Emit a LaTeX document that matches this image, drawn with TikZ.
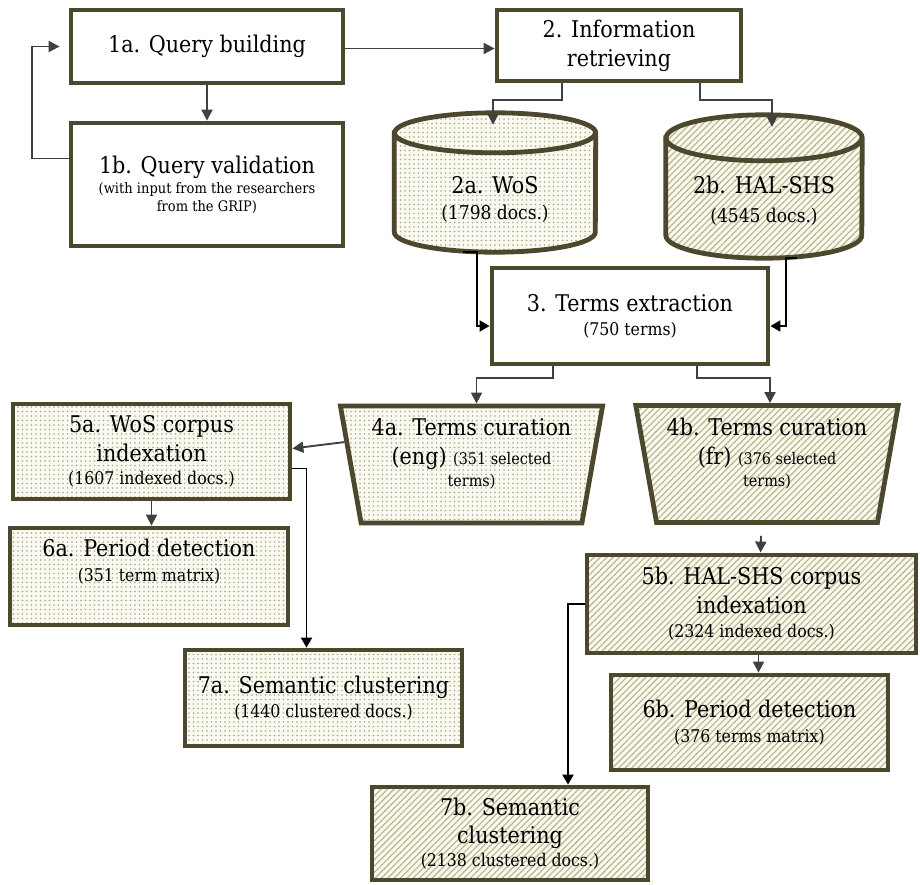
\documentclass[tikz,border=0pt]{standalone}
\usepackage{fontspec}
\setmainfont{DejaVu Serif Condensed}
\usetikzlibrary{shapes.geometric, arrows.meta, patterns.meta}

\definecolor{boxline}{RGB}{76,72,46}
\definecolor{linkgray}{RGB}{64,64,64}
\definecolor{dotcol}{RGB}{172,168,124}
\definecolor{hatchcol}{RGB}{190,186,144}
\definecolor{paper}{RGB}{251,250,242}

\newcommand{\titletxt}{\fontsize{23}{29}\selectfont}
\newcommand{\subtxt}{\fontsize{17.5}{22}\selectfont}
\newcommand{\dbsubtxt}{\fontsize{19}{23}\selectfont}
\newcommand{\smalltxt}{\fontsize{14.5}{18}\selectfont}
\newcommand{\curtxt}{\fontsize{16}{20}\selectfont}

\begin{document}
\begin{tikzpicture}[x=1pt, y=-1pt,
    stepbox/.style={draw=boxline, line width=4.8pt, align=center, inner sep=4pt, font=\titletxt},
    plain/.style={stepbox, fill=white},
    wos/.style={preaction={fill=paper}, pattern={Dots[distance=4.5pt, radius=0.85pt]}, pattern color=dotcol},
    hal/.style={preaction={fill=paper}, pattern={Lines[angle=45, distance=4.5pt, line width=1.3pt]}, pattern color=hatchcol},
    curation/.style={stepbox, trapezium, shape border rotate=180, trapezium angle=79, trapezium stretches=true, minimum width=263, minimum height=117},
    dbtext/.style={align=center, font=\titletxt},
    link/.style={draw=linkgray, line width=1.9pt, -{Triangle[length=11pt, width=11pt]}},
    blink/.style={draw=black, line width=1.9pt, -{Triangle[length=10pt, width=11pt]}}]
\useasboundingbox (0,0) rectangle (920,884);

% query
\node[plain, minimum width=272, minimum height=73] (n1a) at (207,46.5) {1a. Query building};
\node[plain, minimum width=272, minimum height=123] (n1b) at (207,184.5) {1b. Query validation\\[-9pt] \smalltxt (with input from the researchers\\[-11pt] \smalltxt from the GRIP)};
\node[plain, minimum width=244, minimum height=71] (n2) at (619,45.5) {2. Information\\ retrieving};

% databases
\node[minimum width=201, minimum height=139, inner sep=0] (n2a) at (495,182.5) {};
\draw[line width=4.8pt, draw=boxline, wos] ([yshift=-20pt]n2a.north west) -- ([yshift=20pt]n2a.south west) arc[start angle=180, end angle=360, x radius=100.5pt, y radius=20pt] -- ([yshift=-20pt]n2a.north east) arc[start angle=0, end angle=180, x radius=100.5pt, y radius=20pt] -- cycle;
\draw[line width=4.8pt, draw=boxline] ([yshift=-20pt]n2a.north west) arc[start angle=180, end angle=360, x radius=100.5pt, y radius=20pt];
\node[dbtext] (n2a-txt) at ([yshift=-17pt]n2a.center) {2a. WoS\\[-3pt] \dbsubtxt (1798 docs.)};

\node[minimum width=196, minimum height=143, inner sep=0] (n2b) at (764,186.5) {};
\draw[line width=4.8pt, draw=boxline, hal] ([yshift=-23pt]n2b.north west) -- ([yshift=23pt]n2b.south west) arc[start angle=180, end angle=360, x radius=98pt, y radius=23pt] -- ([yshift=-23pt]n2b.north east) arc[start angle=0, end angle=180, x radius=98pt, y radius=23pt] -- cycle;
\draw[line width=4.8pt, draw=boxline] ([yshift=-23pt]n2b.north west) arc[start angle=180, end angle=360, x radius=98pt, y radius=23pt];
\node[dbtext] (n2b-txt) at ([yshift=-14pt]n2b.center) {2b. HAL-SHS\\ \dbsubtxt (4545 docs.)};

\node[plain, minimum width=276, minimum height=96] (n3) at (630,316) {3. Terms extraction\\[-5pt] \subtxt (750 terms)};

% curation
\node[curation, wos, text depth=24pt] (n4a) at (471.5,464.5) {4a. Terms curation\\ (eng) {\curtxt (351 selected}\\[-7pt] \curtxt terms)};
\node[curation, hal, text depth=24pt] (n4b) at (767,464) {4b. Terms curation\\ (fr) {\curtxt (376 selected}\\[-7pt] \curtxt terms)};

% WoS branch
\node[stepbox, wos, minimum width=277, minimum height=95] (n5a) at (151.5,451.5) {5a. WoS corpus\\ indexation\\[-6pt] \subtxt (1607 indexed docs.)};
\node[stepbox, wos, minimum width=278, minimum height=97, text depth=33pt] (n6a) at (149,576.5) {6a. Period detection\\[-4pt] \subtxt (351 term matrix)};
\node[stepbox, wos, minimum width=277, minimum height=96] (n7a) at (323.5,698) {7a. Semantic clustering\\[-5pt] \subtxt (1440 clustered docs.)};

% HAL-SHS branch
\node[stepbox, hal, minimum width=329, minimum height=98] (n5b) at (751.5,604) {5b. HAL-SHS corpus\\ indexation\\[-5pt] \subtxt (2324 indexed docs.)};
\node[stepbox, hal, minimum width=277, minimum height=95] (n6b) at (749.5,722.5) {6b. Period detection\\[-4pt] \subtxt (376 terms matrix)};
\node[stepbox, hal, minimum width=276, minimum height=93] (n7b) at (510,833.5) {7b. Semantic\\[-1pt] clustering\\[-6pt] \subtxt (2138 clustered docs.)};

% connectors
\draw[link] (n1a.south) -- (n1b.north);
\draw[link, shorten >=9pt] ([yshift=26pt]n1b.west) -- ++(-37,0) |- (n1a.west);
\draw[link] ([yshift=-2pt]n1a.east) -- ([yshift=-2pt]n1a.east -| n2.west);
\draw[link] ([xshift=-57pt]n2.south) -- ++(0,17) -| ([shift={(-2,12)}]n2a.north);
\draw[link] ([xshift=81pt]n2.south) -- ++(0,17) -| ([shift={(8,12)}]n2b.north);
\draw[blink] ([xshift=-32pt]n2a.south) -- ++(14,0) |- ([yshift=-10pt]n3.west);
\draw[blink] ([xshift=33pt]n2b.south) -- ++(-11,0) |- ([yshift=-10pt]n3.east);
\draw[link] ([xshift=-77pt]n3.south) -- ++(0,12) -| ([xshift=5pt]n4a.north);
\draw[link] ([xshift=67pt]n3.south) -- ++(0,12) -| ([xshift=3pt]n4b.north);
\draw[link] (n4a.170) -- ([yshift=3pt]n5a.east);
\draw[link] ([shift={(-6,11)}]n4b.south) -- ([xshift=9pt]n5b.north);
\draw[link] (n5a.south) -- (n5a.south |- n6a.north);
\draw[blink] ([yshift=-17pt]n5a.east) -| ([xshift=-17pt]n7a.north);
\draw[link] ([xshift=7pt]n5b.south) -- ([xshift=9pt]n6b.north);
\draw[blink] (n5b.west) -| ([xshift=58pt]n7b.north);
\end{tikzpicture}
\end{document}
